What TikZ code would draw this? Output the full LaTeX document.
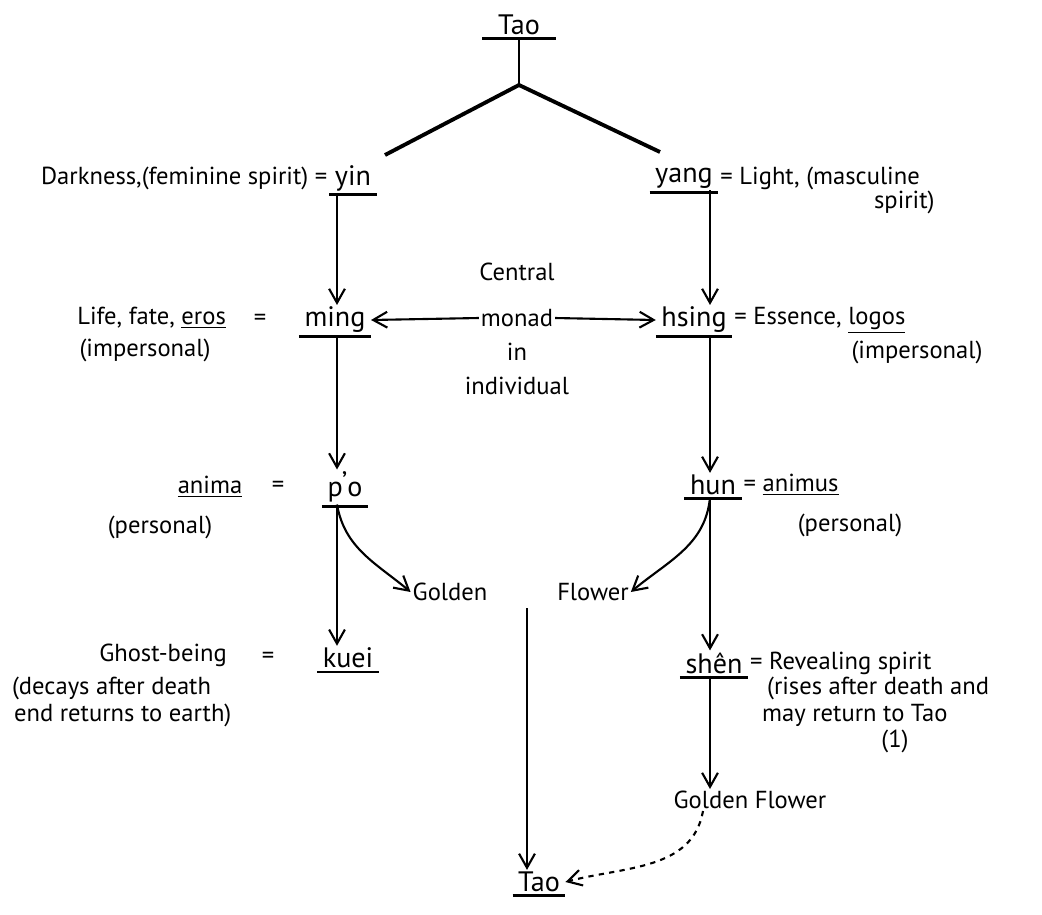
\documentclass[tikz,border=0pt]{standalone}
\usepackage{fontspec}
\setmainfont{PT Sans}
\usetikzlibrary{positioning, arrows.meta}

\tikzset{
  txt/.style={inner sep=1pt, font=\fontsize{14}{16}\selectfont},
  term/.style={inner sep=1pt, inner xsep=3pt, font=\fontsize{16}{18}\selectfont},
  flow/.style={line width=1.2pt, -{Straight Barb[length=8pt,width=9pt]}},
  bar/.style={line width=1.7pt},
}

\begin{document}
\begin{tikzpicture}[x=0.02cm, y=-0.02cm]
\useasboundingbox (0,0) rectangle (1042,914);

% terms
\node[term, inner xsep=9pt] (taoT) at (519,25) {Tao};
\node[term] (yin)   at (353,178) {yin};
\node[term] (yang)  at (684,178) {yang};
\node[term] (ming)  at (335,320) {ming};
\node[term] (hsing) at (694,320) {hsing};
\node[term] (po)    at (345,487) {p\kern-0.5pt\raisebox{3pt}{'}o};
\node[term] (hun)   at (713,485) {hun};
\node[term] (kuei)  at (348,658) {kuei};
\node[term] (shen)  at (714,663) {sh\^en};
\node[term] (taoB)  at (539,882) {Tao};
\foreach \n in {taoT,yin,yang,ming,hsing,po,hun,kuei,shen,taoB}
  \draw[bar] ([yshift=-1pt]\n.south west) -- ([yshift=-1pt]\n.south east);

% left side texts
\node[txt, anchor=east] (yinL) at (yin.west) {Darkness,(feminine spirit) =};
\node[txt, anchor=east] (mingL) at (228,318) {Life, fate, \underline{eros}};
\node[txt] (mingEq) at (260,320) {=};
\node[txt] (mingP) at (145,350) {(impersonal)};
\node[txt] (anima) at (210,487) {\underline{anima}};
\node[txt] (poEq) at (278,487) {=};
\node[txt] (poP) at (160,527) {(personal)};
\node[txt] (ghost) at (163,655) {Ghost-being};
\node[txt] (kueiEq) at (268,658) {=};
\node[txt, anchor=west] (decay1) at (10,688) {(decays after death};
\node[txt, anchor=west] (decay2) at (12,715) {end returns to earth)};

% right side texts
\node[txt, anchor=west] (yangR) at (yang.east) {= Light, (masculine};
\node[txt, anchor=west] (yangR2) at (872,202) {spirit)};
\node[txt, anchor=west] (hsingR) at (hsing.east) {= Essence, \underline{logos}};
\node[txt] (hsingP) at (917,352) {(impersonal)};
\node[txt, anchor=west] (hunR) at (hun.east) {= \underline{animus}};
\node[txt] (hunP) at (850,525) {(personal)};
\node[txt, anchor=west] (shenR) at (shen.east) {= Revealing spirit};
\node[txt, anchor=west] (rise1) at (765,688) {(rises after death and};
\node[txt, anchor=west] (rise2) at (760,715) {may return to Tao};
\node[txt] (rise3) at (895,741) {(1)};

% middle
\node[txt] (central) at (517,272) {Central};
\node[txt] (monad) at (517,318) {monad};
\node[txt] (in) at (517,352) {in};
\node[txt] (indiv) at (517,386) {individual};
\node[txt] (golden) at (450,592) {Golden};
\node[txt] (flower) at (593,592) {Flower};
\node[txt] (gflower) at (750,800) {Golden Flower};

% columns
\coordinate (colL) at (337,0);
\coordinate (colR) at (710,0);
\coordinate (fork) at (519,85);
\coordinate (brL) at (385,155);
\coordinate (brR) at (660,152);
\coordinate (stemB) at (527,608);

% Tao splits
\draw[line width=1.2pt] (taoT.south) -- (fork);
\draw[line width=2.2pt] (brL) -- (fork) -- (brR);

% yin column
\draw[flow] (yin.south -| colL) -- (ming.north -| colL);
\draw[flow] (ming.south -| colL) -- (po.north -| colL);
\draw[flow] (po.south -| colL) -- (kuei.north -| colL);
\draw[flow] (po.south -| colL) to[out=-80, in=140] (golden.west);

% yang column
\draw[flow] (yang.south -| colR) -- (hsing.north -| colR);
\draw[flow] (hsing.south -| colR) -- (hun.north -| colR);
\draw[flow] (hun.south -| colR) -- (shen.north -| colR);
\draw[flow] (hun.south -| colR) to[out=-95, in=40] (flower.east);
\draw[flow] (shen.south -| colR) -- (gflower.north -| colR);

% monad
\draw[flow] (monad.west) -- (ming.east);
\draw[flow] (monad.east) -- (hsing.west);

% return to Tao
\draw[flow] (stemB) -- (taoB.north -| stemB);
\draw[flow, dashed] (gflower.south -| 703,0) to[out=-100, in=15] (taoB.east);
\end{tikzpicture}
\end{document}
